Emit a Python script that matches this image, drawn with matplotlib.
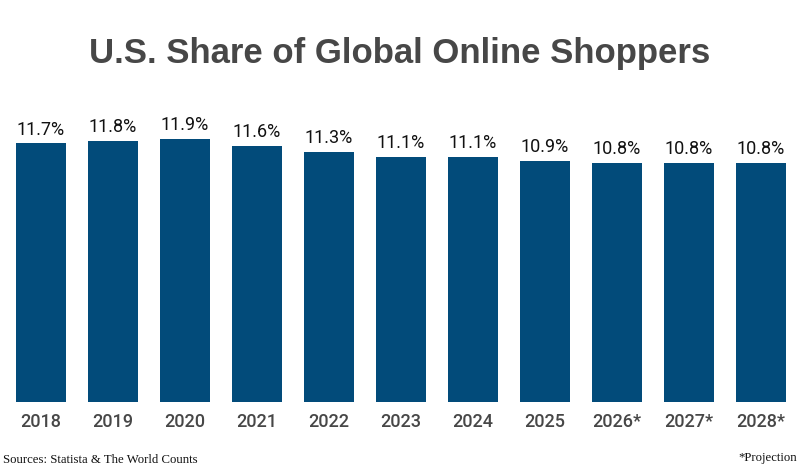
import matplotlib.pyplot as plt

years = ['2018', '2019', '2020', '2021', '2022', '2023', '2024', '2025', '2026*', '2027*', '2028*']
share = [11.7, 11.8, 11.9, 11.6, 11.3, 11.1, 11.1, 10.9, 10.8, 10.8, 10.8]

bar_color = '#024B7A'
gray = '#474747'

fig = plt.figure(figsize=(8, 4.72), dpi=100)
# axes placed in figure pixels: left 5, right 797, bottom y=402, top y=100
ax = fig.add_axes([5 / 800, (472 - 402) / 472, 792 / 800, 302 / 472])

x = range(len(years))
bars = ax.bar(x, share, width=0.694, color=bar_color)
ax.set_xlim(-0.5, len(years) - 0.5)
ax.set_ylim(0, 302 / 22.1)

for b, v in zip(bars, share):
    ax.annotate(f'{v}%', (b.get_x() + b.get_width() / 2, v), xytext=(0, 3.5),
                textcoords='offset points', ha='center', va='bottom',
                fontsize=13, family='Roboto', color='#111111')

ax.set_xticks(list(x))
ax.set_xticklabels(years, fontsize=13, family='Roboto', fontweight='medium', color=gray)
ax.tick_params(axis='x', length=0, pad=8)
ax.set_yticks([])
for s in ax.spines.values():
    s.set_visible(False)

fig.text(0.5, (472 - 54) / 472, 'U.S. Share of Global Online Shoppers', ha='center', va='center',
         fontsize=25, fontweight='bold', family='Liberation Sans', color=gray)
fig.text(3 / 800, (472 - 460) / 472, 'Sources: Statista & The World Counts', ha='left', va='center',
         fontsize=9.2, family='Liberation Serif', color='#111111')
fig.text(797 / 800, (472 - 458) / 472, '*Projection', ha='right', va='center',
         fontsize=9.2, family='Liberation Serif', color='#111111')

fig.savefig('out.png', dpi=100)
